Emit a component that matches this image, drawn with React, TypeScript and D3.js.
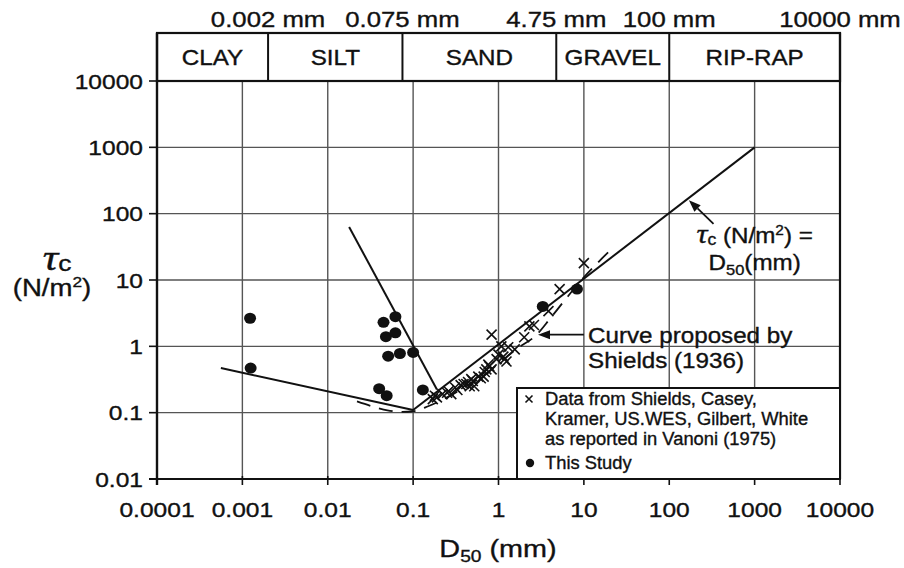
import React from "react";
import * as d3 from "d3";

// ---------- data ----------
const xTicks = [0.0001, 0.001, 0.01, 0.1, 1, 10, 100, 1000, 10000];
const xTickLabels = ["0.0001", "0.001", "0.01", "0.1", "1", "10", "100", "1000", "10000"];
const yTicks = [0.01, 0.1, 1, 10, 100, 1000, 10000];
const yTickLabels = ["0.01", "0.1", "1", "10", "100", "1000", "10000"];

const classBounds = [0.0001, 0.002, 0.075, 4.75, 100, 10000];
const classNames = ["CLAY", "SILT", "SAND", "GRAVEL", "RIP-RAP"];
const boundValues = [0.002, 0.075, 4.75, 100, 10000];
const boundLabels = ["0.002 mm", "0.075 mm", "4.75 mm", "100 mm", "10000 mm"];

// This Study (filled circles)
const studyD = [0.00123, 0.00125, 0.045, 0.062, 0.048, 0.062, 0.051, 0.07, 0.1, 0.04, 0.049, 0.13, 3.3, 8.3];
const studyTau = [2.65, 0.47, 2.3, 2.8, 1.4, 1.6, 0.71, 0.78, 0.81, 0.23, 0.18, 0.22, 4.0, 7.3];

// Data from Shields, Casey, Kramer, US.WES, Gilbert, White (crosses)
const vanoniD = [0.17, 0.18, 0.19, 0.22, 0.25, 0.26, 0.28, 0.31, 0.33, 0.36, 0.39, 0.42, 0.44, 0.46, 0.48, 0.5, 0.52, 0.58, 0.62, 0.67, 0.69, 0.72, 0.76, 0.78, 0.83, 0.83, 0.95, 1.0, 1.08, 1.14, 1.18, 1.24, 1.3, 1.55, 2.0, 2.3, 2.6, 3.85, 5.2, 10];
const vanoniTau = [0.16, 0.18, 0.17, 0.19, 0.2, 0.21, 0.19, 0.24, 0.22, 0.26, 0.27, 0.27, 0.29, 0.25, 0.32, 0.3, 0.25, 0.35, 0.33, 0.35, 0.41, 0.45, 0.53, 0.5, 0.45, 1.5, 0.64, 0.75, 1.0, 0.7, 0.64, 0.59, 0.97, 0.9, 1.37, 2.0, 2.1, 3.4, 7.3, 18];

// Lines
const leftLineD = [0.00056, 0.1];
const leftLineTau = [0.47, 0.11];
const steepLineD = [0.0178, 0.19];
const steepLineTau = [63, 0.224];
const equalLineD = [0.1, 1000];
const equalLineTau = [0.11, 1000];
const shieldsD = [0.022, 0.035, 0.05, 0.075, 0.1, 0.15, 0.25, 0.4, 0.7, 1, 1.6, 2.8, 4, 6, 10, 15, 22];
const shieldsTau = [0.148, 0.122, 0.108, 0.103, 0.105, 0.125, 0.17, 0.24, 0.38, 0.55, 0.9, 1.5, 2.6, 5, 11, 19, 31];

// Annotation anchors (data units)
const eqArrowTip = [170, 160];
const eqArrowTail = [330, 70];
const shArrowTip = [2.9, 1.5];
const shArrowTail = [10, 1.5];

// ---------- layout ----------
const W = 904;
const H = 568;
const left = 157;
const right = 840;
const top = 81;
const bottom = 479;
const headerTop = 33;

const FONT = "'Liberation Sans', Arial, Helvetica, sans-serif";
const SERIF = "'Liberation Serif', 'Times New Roman', serif";
const INK = "#111";
const GRID = "#555";

const x = d3.scaleLog().domain([1e-4, 1e4]).range([left, right]);
const y = d3.scaleLog().domain([0.01, 1e4]).range([bottom, top]);

const zip = (a: number[], b: number[]) => a.map((v, i) => [v, b[i]] as [number, number]);

const straight = d3
  .line<[number, number]>()
  .x((d) => x(d[0]))
  .y((d) => y(d[1]));
const curved = d3
  .line<[number, number]>()
  .x((d) => x(d[0]))
  .y((d) => y(d[1]))
  .curve(d3.curveMonotoneX);

function T({
  x: tx,
  y: ty,
  size,
  sx = 1,
  anchor = "start",
  dy,
  children,
}: {
  x: number;
  y: number;
  size: number;
  sx?: number;
  anchor?: string;
  dy?: string;
  children: React.ReactNode;
}) {
  return (
    <text
      transform={`translate(${tx},${ty}) scale(${sx},1)`}
      fontSize={size}
      textAnchor={anchor as any}
      dy={dy}
      fill={INK}
      stroke={INK}
      strokeWidth={0.35}
    >
      {children}
    </text>
  );
}

function Arrow({ from, to }: { from: [number, number]; to: [number, number] }) {
  const x1 = x(from[0]);
  const y1 = y(from[1]);
  const x2 = x(to[0]);
  const y2 = y(to[1]);
  const ang = Math.atan2(y2 - y1, x2 - x1);
  const L = 12;
  const Wd = 4.5;
  const bx = x2 - L * Math.cos(ang);
  const by = y2 - L * Math.sin(ang);
  const px = -Math.sin(ang) * Wd;
  const py = Math.cos(ang) * Wd;
  return (
    <g>
      <line x1={x1} y1={y1} x2={bx} y2={by} stroke={INK} strokeWidth={1.8} />
      <polygon points={`${x2},${y2} ${bx + px},${by + py} ${bx - px},${by - py}`} fill={INK} />
    </g>
  );
}

export default function App() {
  const cross = "M-5,-5L5,5M-5,5L5,-5";
  return (
    <svg
      width={W}
      height={H}
      viewBox={`0 0 ${W} ${H}`}
      style={{ position: "absolute", left: 0, top: 0, background: "#fff" }}
      fontFamily={FONT}
    >
      <rect x={0} y={0} width={W} height={H} fill="#fff" />

      {/* grid */}
      {yTicks.slice(1, -1).map((t) => (
        <line key={"hy" + t} x1={left} x2={right} y1={y(t)} y2={y(t)} stroke={GRID} strokeWidth={1.4} />
      ))}
      {xTicks.slice(1, -1).map((t) => (
        <line key={"vx" + t} x1={x(t)} x2={x(t)} y1={top} y2={bottom} stroke={GRID} strokeWidth={1.4} />
      ))}

      {/* frame */}
      <line x1={left} x2={left} y1={headerTop} y2={bottom + 6} stroke={INK} strokeWidth={2.4} />
      <line x1={right} x2={right} y1={headerTop} y2={bottom} stroke={INK} strokeWidth={2.2} />
      <line x1={left - 8} x2={right} y1={bottom} y2={bottom} stroke={INK} strokeWidth={2} />

      {/* y ticks */}
      {yTicks.map((t, i) => (
        <g key={"yt" + t}>
          <line x1={left - 8} x2={left} y1={y(t)} y2={y(t)} stroke={INK} strokeWidth={1.6} />
          <T x={left - 14} y={y(t)} dy="0.36em" anchor="end" size={21} sx={1.17}>
            {yTickLabels[i]}
          </T>
        </g>
      ))}
      {/* x ticks */}
      {xTicks.map((t, i) => (
        <g key={"xt" + t}>
          <line x1={x(t)} x2={x(t)} y1={bottom - 3} y2={bottom + 6} stroke={INK} strokeWidth={1.6} />
          <T x={x(t)} y={bottom + 38} anchor="middle" size={21} sx={1.17}>
            {xTickLabels[i]}
          </T>
        </g>
      ))}

      {/* header classification */}
      <rect x={left} y={headerTop} width={right - left} height={top - headerTop} fill="none" stroke={INK} strokeWidth={2.2} />
      {classBounds.slice(1, -1).map((b) => (
        <line key={"cb" + b} x1={x(b)} x2={x(b)} y1={headerTop} y2={top} stroke={INK} strokeWidth={2} />
      ))}
      {classNames.map((n, i) => (
        <T
          key={n}
          x={(x(classBounds[i]) + x(classBounds[i + 1])) / 2}
          y={(headerTop + top) / 2}
          dy="0.38em"
          anchor="middle"
          size={22}
          sx={1.1}
        >
          {n}
        </T>
      ))}
      {boundValues.map((b, i) => (
        <T key={"bl" + b} x={x(b)} y={27} anchor="middle" size={22} sx={1.17}>
          {boundLabels[i]}
        </T>
      ))}

      {/* lines */}
      <path d={straight(zip(leftLineD, leftLineTau)) || ""} fill="none" stroke={INK} strokeWidth={2} />
      <path d={straight(zip(steepLineD, steepLineTau)) || ""} fill="none" stroke={INK} strokeWidth={2} />
      <path d={straight(zip(equalLineD, equalLineTau)) || ""} fill="none" stroke={INK} strokeWidth={2} />
      <path
        d={curved(zip(shieldsD, shieldsTau)) || ""}
        fill="none"
        stroke={INK}
        strokeWidth={1.8}
        strokeDasharray="14,9"
      />

      {/* data */}
      {zip(vanoniD, vanoniTau).map((d, i) => (
        <path key={"v" + i} d={cross} transform={`translate(${x(d[0])},${y(d[1])})`} stroke={INK} strokeWidth={1.6} fill="none" />
      ))}
      {zip(studyD, studyTau).map((d, i) => (
        <ellipse key={"s" + i} cx={x(d[0])} cy={y(d[1])} rx={6} ry={5.5} fill={INK} />
      ))}

      {/* annotations */}
      <Arrow from={eqArrowTail as [number, number]} to={eqArrowTip as [number, number]} />
      <T x={x(1000)} y={243} anchor="middle" size={22} sx={1.1}>
        <tspan fontFamily={SERIF} fontStyle="italic" fontSize={28}>τ</tspan>
        <tspan fontSize={16} dy={2}>c</tspan>
        <tspan dy={-2}> (N/m</tspan>
        <tspan fontSize={14} dy={-8}>2</tspan>
        <tspan dy={8}>) =</tspan>
      </T>
      <T x={x(1000)} y={270} anchor="middle" size={22} sx={1.1}>
        <tspan>D</tspan>
        <tspan fontSize={15} dy={5}>50</tspan>
        <tspan dy={-5}>(mm)</tspan>
      </T>

      <Arrow from={shArrowTail as [number, number]} to={shArrowTip as [number, number]} />
      <T x={588} y={343} size={22} sx={1.1}>Curve proposed by</T>
      <T x={588} y={368} size={22} sx={1.1}>Shields (1936)</T>

      {/* legend */}
      <rect x={517} y={388} width={right - 517} height={bottom - 388} fill="#fff" stroke={INK} strokeWidth={2} />
      <path d="M-3.5,-3.5L3.5,3.5M-3.5,3.5L3.5,-3.5" transform="translate(529,399)" stroke={INK} strokeWidth={1.6} />
      <T x={545} y={405} size={18} sx={1.02}>Data from Shields, Casey,</T>
      <T x={545} y={425} size={18} sx={1.02}>Kramer, US.WES, Gilbert, White</T>
      <T x={545} y={445} size={18} sx={1.02}>as reported in Vanoni (1975)</T>
      <circle cx={530} cy={463} r={4.2} fill={INK} />
      <T x={545} y={469} size={18} sx={1.02}>This Study</T>

      {/* axis titles */}
      <T x={57} y={270} anchor="middle" size={22} sx={1.2}>
        <tspan fontFamily={SERIF} fontStyle="italic" fontSize={36}>τ</tspan>
        <tspan fontSize={22} dy={1}>c</tspan>
      </T>
      <T x={52} y={296} anchor="middle" size={24} sx={1.15}>
        <tspan>(N/m</tspan>
        <tspan fontSize={15} dy={-9}>2</tspan>
        <tspan dy={9}>)</tspan>
      </T>
      <T x={498} y={557} anchor="middle" size={24} sx={1.2}>
        <tspan>D</tspan>
        <tspan fontSize={16} dy={5}>50</tspan>
        <tspan dy={-5}> (mm)</tspan>
      </T>
    </svg>
  );
}
